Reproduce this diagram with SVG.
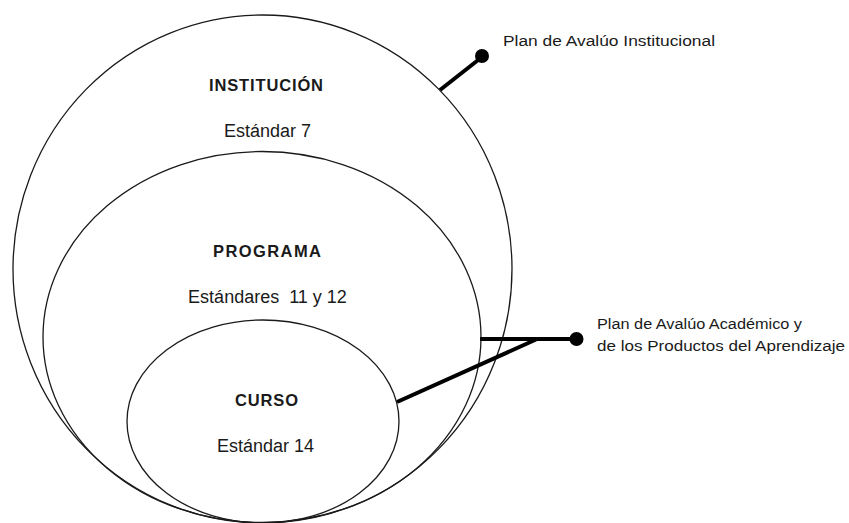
<svg xmlns="http://www.w3.org/2000/svg" width="849" height="523" viewBox="0 0 849 523">
  <style>
    .ring { fill: none; stroke: #1a1a1a; stroke-width: 1.3; }
    .conn { stroke: #000; stroke-width: 4; fill: none; stroke-linecap: butt; }
    .dot { fill: #000; }
    .title { font-family: "Liberation Sans", Arial, sans-serif; font-weight: bold; font-size: 16.5px; fill: #1a1a1a; text-anchor: middle; }
    .sub { font-family: "Liberation Sans", Arial, sans-serif; font-size: 18px; fill: #1a1a1a; text-anchor: middle; }
    .note { font-family: "Liberation Sans", Arial, sans-serif; font-size: 14px; fill: #1a1a1a; }
  </style>
  <rect width="849" height="523" fill="#fff"/>
  <g id="institucion">
    <ellipse class="ring" cx="262.5" cy="269" rx="249.5" ry="254"/>
    <text class="title" x="266" y="91" textLength="114" lengthAdjust="spacing">INSTITUCIÓN</text>
    <text class="sub" x="267.5" y="136.5">Estándar 7</text>
  </g>
  <g id="programa">
    <ellipse class="ring" cx="262" cy="337" rx="219" ry="185.5"/>
    <text class="title" x="267" y="257" textLength="108" lengthAdjust="spacing">PROGRAMA</text>
    <text class="sub" x="267.5" y="303" xml:space="preserve">Estándares  11 y 12</text>
  </g>
  <g id="curso">
    <ellipse class="ring" cx="263" cy="421.5" rx="136" ry="101.5"/>
    <text class="title" x="266.5" y="406" textLength="63" lengthAdjust="spacing">CURSO</text>
    <text class="sub" x="265.5" y="452">Estándar 14</text>
  </g>
  <g id="connectors">
    <line class="conn" x1="440" y1="90" x2="482" y2="57"/>
    <circle class="dot" cx="482" cy="56" r="7"/>
    <polyline class="conn" points="480,339 576,339"/>
    <line class="conn" x1="397" y1="402" x2="536" y2="339.5"/>
    <circle class="dot" cx="576.5" cy="339" r="7"/>
  </g>
  <g id="label-institucional">
    <text class="note" x="503" y="46" textLength="212" lengthAdjust="spacingAndGlyphs">Plan de Avalúo Institucional</text>
  </g>
  <g id="label-academico">
    <text class="note" x="597" y="329" textLength="205" lengthAdjust="spacingAndGlyphs">Plan de Avalúo Académico y</text>
    <text class="note" x="597" y="350.5" textLength="248" lengthAdjust="spacingAndGlyphs">de los Productos del Aprendizaje</text>
  </g>
</svg>
